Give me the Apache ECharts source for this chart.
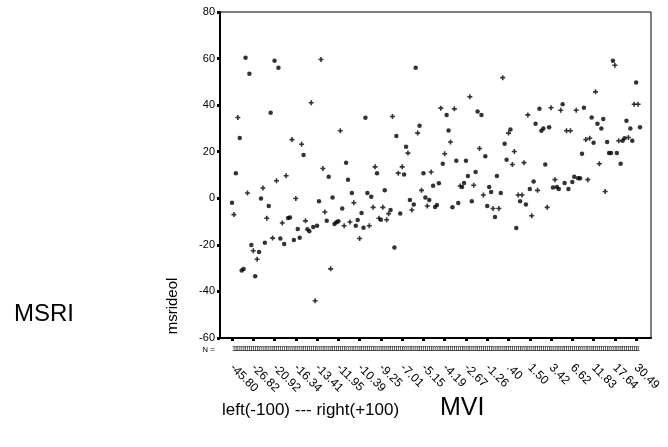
<!DOCTYPE html>
<html>
<head>
<meta charset="utf-8">
<script src="https://cdn.jsdelivr.net/npm/echarts@6/dist/echarts.min.js"></script>
<style>html,body{margin:0;padding:0;background:#fff}#c{width:668px;height:447px}</style>
</head>
<body>
<div id="c"></div>
<script>
// Tick labels shown under every 11th case (MVI values)
const tickLabels = ['-45.80','-26.82','-20.92','-16.34','-13.41','-11.95','-10.39','-9.25','-7.01','-5.15',
  '-4.19','-2.67','-1.26','.40','1.50','3.42','6.62','11.83','17.64','30.49'];
// msrideol value for each case, in MVI order
const msrideol = [
  -1.9, -7.0, 10.8, 34.7, 25.9, -31.0, -30.4, 60.4, 2.3, 53.5,
  -20.1, -22.5, -33.5, -26.2, -23.1, -0.1, 4.4, -19.1, -8.6, -3.3,
  36.7, -17.1, 59.1, 7.5, 56.1, -17.3, -10.6, -19.6, 9.7, -8.5,
  -8.2, 25.2, -17.9, -0.1, -13.2, -16.9, 23.2, 18.6, -9.7, -13.3,
  -14.2, 41.0, -12.3, -44.0, -11.8, -1.3, 59.6, 12.8, -5.9, -9.6,
  9.3, -30.3, 0.3, -11.0, -10.3, -9.9, 29.0, -4.4, -11.8, 15.3,
  8.0, -10.2, 2.3, -1.9, -11.8, -9.3, -17.3, -6.3, -12.6, 34.6,
  2.3, -11.8, 0.7, -3.9, 13.5, 10.8, -8.6, -9.2, -3.9, 3.4,
  -9.2, -6.6, -5.0, 35.1, -21.1, 26.8, 10.8, -6.5, 13.5, 10.2,
  22.1, 19.4, -0.7, -5.0, -2.7, 56.1, 28.0, 31.1, 3.4, 10.8,
  0.3, -3.3, -0.7, 11.3, 5.4, -3.7, -2.9, 6.5, 38.7, 14.8,
  19.1, 35.8, 29.1, 24.2, -3.9, 38.4, 16.1, -2.0, 5.3, 4.9,
  6.6, 16.1, 9.6, 43.6, -1.3, 5.6, 11.3, 37.3, 21.4, 35.8,
  1.4, 18.1, -3.3, 4.9, 2.7, -4.4, -8.0, 9.6, -4.4, 2.3,
  51.8, 23.4, 16.5, 28.0, 29.5, 14.5, 20.1, -12.8, 1.4, -1.3,
  1.4, 15.3, -2.7, 35.8, 4.0, -7.5, 7.2, 32.0, 3.4, 38.4,
  29.0, 30.0, 14.5, -3.9, 30.5, 38.9, 4.6, 8.0, 4.9, 4.0,
  37.8, 40.4, 6.6, 29.0, 4.0, 29.0, 7.0, 9.2, 37.8, 8.6,
  8.6, 19.1, 38.9, 25.2, 8.0, 25.8, 34.7, 23.8, 45.7, 32.0,
  14.8, 30.0, 34.1, 2.9, 24.2, 19.5, 19.5, 59.1, 57.1, 19.5,
  24.7, 14.8, 24.7, 25.8, 33.3, 26.1, 30.0, 24.7, 40.4, 49.7,
  40.4, 30.5
];
// marker drawn for each case: 'd' = dot, 's' = star
const markers = (
  'dsdsddddsd' + 'dsdsddsdsd' + 'dsdsddsdsd' + 'dsdsddsdsd' + 'dsdsddsssd' +
  'dsddddsdsd' + 'dsdsddsddd' + 'dsdssdsdsd' + 'ssdsddsdsd' + 'dsdsddsdsd' +
  'dsdsddddsd' + 'sddsdsddsd' + 'dddsdsddsd' + 'sddddsddsd' + 'sddsdssdsd' +
  'ssdsdsddsd' + 'dddsdsdsdd' + 'sddsdsddsd' + 'dddsssddsd' + 'sddsddddsd' +
  'sddddsddsd' + 'sd').split('');
const ySteps = [-60, 80, 20];
const tickEvery = 11;

const dots = [], stars = [];
msrideol.forEach((v, i) => { (markers[i] === 's' ? stars : dots).push([i, v]); });

const FONT = '"Liberation Sans", Arial, sans-serif';
const chart = echarts.init(document.getElementById('c'), null, {renderer: 'canvas'});
chart.setOption({
  animation: false,
  backgroundColor: '#fff',
  textStyle: {fontFamily: FONT},
  grid: [
    {left: 220, right: 17, top: 12, bottom: 109, show: true, borderColor: '#000', borderWidth: 1, backgroundColor: 'transparent'},
    {left: 232, right: 28, top: 12, bottom: 109}
  ],
  xAxis: [
    {gridIndex: 0, type: 'value', min: 0, max: 1, position: 'bottom',
     axisLine: {show: true, onZero: false, lineStyle: {color: '#000', width: 2}},
     axisTick: {show: false}, axisLabel: {show: false}, splitLine: {show: false}},
    {gridIndex: 1, type: 'value', min: 0, max: msrideol.length - 1, interval: tickEvery, position: 'bottom',
     axisLine: {show: false, onZero: false},
     axisTick: {show: true, length: 3, lineStyle: {color: '#000', width: 3}},
     axisLabel: {rotate: -45, margin: 28, fontSize: 12, color: '#000', fontFamily: FONT,
       formatter: v => tickLabels[Math.round(v / tickEvery)] || ''},
     splitLine: {show: false}},
    {gridIndex: 1, type: 'value', min: 0, max: msrideol.length - 1, interval: 1, position: 'bottom',
     axisLine: {show: false, onZero: false}, axisTick: {show: false},
     axisLabel: {formatter: () => '1', fontSize: 8, margin: 7, color: '#222', fontFamily: FONT, hideOverlap: false},
     splitLine: {show: false}}
  ],
  yAxis: [
    {gridIndex: 0, type: 'value', min: ySteps[0], max: ySteps[1], interval: ySteps[2],
     axisLine: {show: true, onZero: false, lineStyle: {color: '#000', width: 2}},
     axisTick: {show: true, length: 3, lineStyle: {color: '#000', width: 3}},
     axisLabel: {fontSize: 11, color: '#000', margin: 5, fontFamily: FONT},
     splitLine: {show: false}},
    {gridIndex: 1, type: 'value', min: ySteps[0], max: ySteps[1], show: false}
  ],
  graphic: [
    {type: 'text', x: 215, y: 350, style: {text: 'N =', font: '8px ' + FONT, fill: '#000', align: 'right', verticalAlign: 'middle'}},
    {type: 'text', x: 173, y: 306, rotation: Math.PI / 2, style: {text: 'msrideol', font: '15px ' + FONT, fill: '#000', align: 'center', verticalAlign: 'middle'}},
    {type: 'text', x: 14, y: 314, style: {text: 'MSRI', font: '24px ' + FONT, fill: '#000', align: 'left', verticalAlign: 'middle'}},
    {type: 'text', x: 222, y: 410, style: {text: 'left(-100) --- right(+100)', font: '17px ' + FONT, fill: '#000', align: 'left', verticalAlign: 'middle'}},
    {type: 'text', x: 440, y: 408, style: {text: 'MVI', font: '25px ' + FONT, fill: '#000', align: 'left', verticalAlign: 'middle'}}
  ],
  series: [
    {type: 'scatter', xAxisIndex: 1, yAxisIndex: 1, data: dots, symbol: 'circle', symbolSize: 4.5,
     itemStyle: {color: '#000'}, silent: true},
    {type: 'scatter', xAxisIndex: 1, yAxisIndex: 1, data: stars,
     symbol: 'path://M1.7,0L3.3,0L3.3,1.7L5,1.7L5,3.3L3.3,3.3L3.3,5L1.7,5L1.7,3.3L0,3.3L0,1.7L1.7,1.7Z', symbolSize: 5,
     itemStyle: {color: '#000'}, silent: true}
  ]
});
</script>
</body>
</html>
